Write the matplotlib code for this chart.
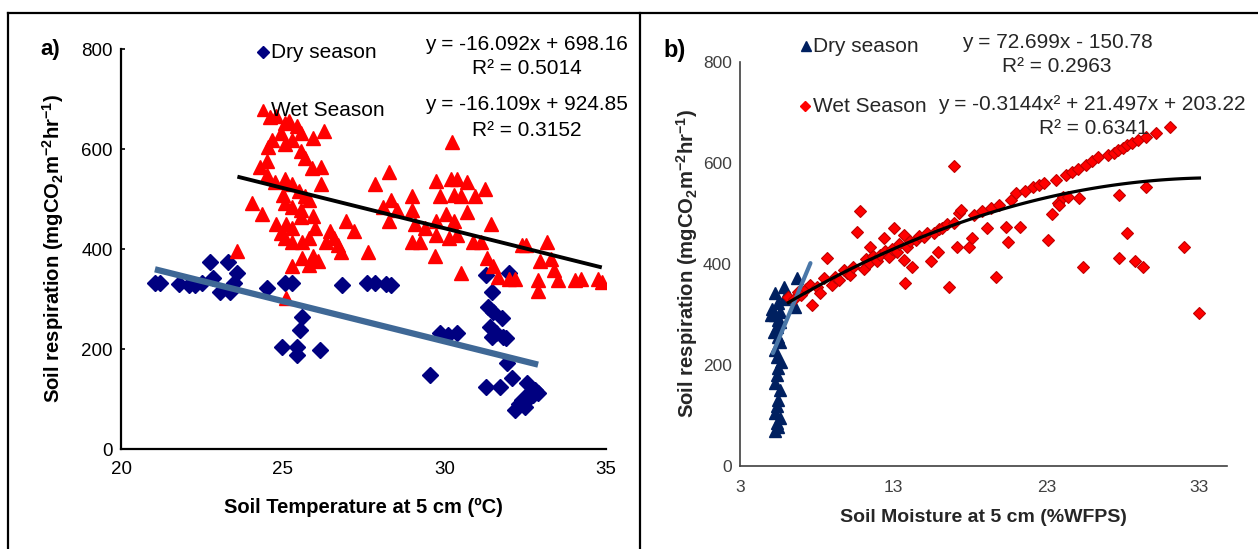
import numpy as np
import matplotlib
matplotlib.use("Agg")
import matplotlib.pyplot as plt
from matplotlib.lines import Line2D

plt.rcParams['font.family'] = ['Liberation Sans', 'DejaVu Sans']
plt.rcParams['mathtext.fontset'] = 'custom'
plt.rcParams['mathtext.rm'] = 'Liberation Sans'
plt.rcParams['mathtext.bf'] = 'Liberation Sans:bold'

# ---- panel a: soil temperature vs respiration ----
dry_a_x = [21.05, 21.2, 21.8, 22.1, 22.3, 22.5, 22.75, 22.85, 23.07, 23.3, 23.37, 23.5, 23.6,
           24.5, 25.07, 25.28, 25.54, 25.6, 24.97, 25.43, 25.43, 26.15, 26.83, 27.6, 27.85,
           28.2, 28.35, 29.56, 29.87, 30.1, 30.38, 31.3, 32.0, 31.47, 31.35, 31.5, 31.78,
           31.4, 31.47, 31.8, 31.9, 31.6, 31.93, 31.3, 31.72, 32.08, 32.55, 32.75, 32.4,
           32.2, 32.9, 32.6, 32.3, 32.5, 32.8, 32.65]
dry_a_y = [332, 332, 330, 328, 329, 332, 375, 342, 315, 375, 315, 332, 352,
           322, 332, 332, 238, 265, 205, 205, 188, 198, 329, 332, 332,
           331, 329, 148, 232, 228, 232, 349, 353, 315, 285, 275, 262,
           245, 224, 224, 222, 232, 172, 125, 125, 142, 132, 108, 98,
           78, 112, 100, 90, 85, 118, 115]

wet_a_x = [23.6, 24.05, 24.37, 24.3, 24.5, 24.56, 24.68, 24.6, 24.8, 25.06, 25.2, 25.44, 25.57,
           25.95, 26.27, 24.94, 25.06, 25.3, 25.57, 25.7, 25.9, 26.2, 26.2, 24.5, 24.75, 25.06,
           25.3, 25.5, 25.7, 25.0, 25.06, 25.3, 25.57, 25.8, 24.8, 24.94, 25.1, 25.3, 25.57,
           25.95, 26.0, 25.06, 25.3, 25.6, 25.8, 25.3, 25.6, 25.95, 25.8, 26.1, 26.45, 26.58,
           26.33, 26.7, 26.8, 26.96, 27.2, 27.65, 27.85, 28.3, 28.1, 28.35, 28.54, 28.3, 29.0,
           29.0, 29.1, 29.4, 29.0, 29.25, 29.7, 29.75, 29.87, 30.2, 30.38, 30.7, 30.25, 30.3,
           30.5, 30.95, 31.27, 29.75, 30.06, 30.3, 30.7, 29.75, 30.13, 30.38, 30.5, 30.9, 31.14,
           31.45, 31.33, 31.5, 31.65, 32.2, 32.0, 32.4, 32.53, 32.97, 32.9, 32.9, 33.16, 33.3,
           33.4, 33.5, 34.05, 34.24, 34.75, 34.87, 25.1]
wet_a_y = [397, 492, 471, 565, 576, 604, 618, 664, 667, 653, 657, 646, 632,
           622, 636, 632, 611, 618, 597, 583, 562, 565, 530, 548, 534, 541,
           530, 516, 506, 509, 492, 485, 478, 499, 450, 432, 450, 443, 464,
           467, 443, 422, 415, 415, 422, 366, 383, 387, 369, 376, 436, 422,
           415, 408, 394, 457, 436, 394, 530, 555, 485, 499, 478, 457, 506,
           478, 450, 443, 415, 415, 387, 537, 506, 541, 541, 534, 615, 509,
           506, 506, 520, 457, 471, 457, 474, 429, 422, 429, 352, 415, 415,
           450, 383, 366, 345, 341, 341, 408, 408, 376, 338, 317, 415, 380,
           359, 338, 338, 341, 341, 334, 303]

fit_dry_a = [-16.092, 698.16]
fit_wet_a = [-16.109, 924.85]

# ---- panel b: soil moisture vs respiration ----
dry_b_x = [5.3, 5.5, 5.4, 5.6, 5.3, 5.4, 5.5, 5.6, 5.3, 5.4, 5.5, 5.7, 5.4, 5.3, 5.6, 5.5,
           5.2, 5.4, 5.6, 5.5, 5.3, 5.6, 5.0, 5.1, 5.5, 5.9, 6.6, 5.3, 5.9, 6.7, 6.2]
dry_b_y = [70, 78, 85, 95, 105, 118, 130, 150, 165, 180, 195, 205, 215, 230, 245, 255,
           265, 275, 285, 290, 300, 305, 300, 310, 323, 330, 315, 342, 355, 372, 335]
dry_b_fit_range = [5.15, 7.6]

wet_b_x = [6.16, 6.5, 6.8, 7.0, 7.3, 7.58, 7.7, 8.0, 8.24, 8.46, 8.68, 9.0, 9.2, 9.44, 9.77,
           10.0, 10.2, 10.4, 10.64, 10.86, 11.07, 11.2, 11.4, 11.5, 11.7, 11.95, 12.17, 12.4,
           12.5, 12.7, 12.9, 13.05, 13.26, 13.4, 13.7, 13.7, 13.8, 13.9, 14.1, 14.25, 14.5,
           14.7, 15.0, 15.2, 15.44, 15.66, 15.9, 16.0, 16.2, 16.5, 16.64, 16.96, 16.97, 17.3,
           17.2, 17.4, 17.96, 18.17, 18.3, 18.8, 19.15, 19.4, 19.7, 19.9, 20.35, 20.47, 20.7,
           21.0, 21.3, 21.6, 22.1, 22.5, 22.87, 23.1, 23.4, 23.63, 23.74, 23.85, 24.07, 24.3,
           24.4, 24.7, 25.05, 25.15, 25.4, 25.6, 26.0, 26.36, 27.0, 27.4, 27.67, 27.78, 27.78,
           28.0, 28.3, 28.3, 28.6, 28.77, 28.97, 29.3, 29.5, 29.5, 30.18, 31.05, 32.0, 33.0]
wet_b_y = [335, 330, 345, 338, 350, 358, 319, 355, 342, 372, 411, 358, 375, 368, 388,
           382, 378, 395, 464, 504, 391, 410, 401, 434, 415, 405, 418, 451,
           425, 414, 430, 471, 424, 440, 457, 408, 362, 434, 445, 395, 448,
           455, 454, 462, 405, 461, 424, 470, 471, 480, 355, 481, 594, 501,
           434, 507, 434, 451, 497, 505, 471, 510, 375, 517, 474, 444, 527,
           540, 474, 545, 553, 556, 560, 448, 500, 566, 520, 517, 533, 576,
           533, 582, 589, 530, 395, 596, 604, 612, 616, 620, 626, 537, 411,
           630, 636, 461, 640, 405, 645, 395, 652, 553, 659, 672, 434, 302]

fit_dry_b = [72.699, -150.78]
fit_wet_b = [-0.3144, 21.497, 203.22]

W, H = 1258, 549
fig = plt.figure(figsize=(W / 100, H / 100), dpi=100)


def fx(px):
    return px / W


def fy(py):
    return 1 - py / H


# frame lines round the two panels
for xs, ys in [([8, W], [13, 13]), ([8, 8], [13, H]), ([640, 640], [13, H])]:
    fig.add_artist(Line2D([fx(v) for v in xs], [fy(v) for v in ys], color='black', lw=1.6,
                          transform=fig.transFigure))

# ---------------- panel a ----------------
ax1 = fig.add_axes([fx(121), fy(449), fx(606) - fx(121), fy(49) - fy(449)])
ax1.plot(dry_a_x, dry_a_y, linestyle='none', marker='D', ms=7.8, color='#000080', zorder=3)
ax1.plot(wet_a_x, wet_a_y, linestyle='none', marker='^', ms=10, color='#ff0000', zorder=3)
xd = np.array([min(dry_a_x), max(dry_a_x)])
ax1.plot(xd, np.polyval(fit_dry_a, xd), color='#3f6896', lw=4.5, solid_capstyle='butt', zorder=4)
xw = np.array([min(wet_a_x), max(wet_a_x)])
ax1.plot(xw, np.polyval(fit_wet_a, xw), color='black', lw=2.8, solid_capstyle='butt', zorder=4)

ax1.set_xlim(20, 35)
ax1.set_ylim(0, 800)
ax1.set_xticks([20, 25, 30, 35])
ax1.set_yticks([0, 200, 400, 600, 800])
ax1.spines['top'].set_visible(False)
ax1.spines['right'].set_visible(False)
for s in ['left', 'bottom']:
    ax1.spines[s].set_linewidth(1.6)
ax1.tick_params(axis='y', direction='in', length=3, width=1.2, pad=6, labelsize=13.5)
ax1.tick_params(axis='x', length=0, pad=9, labelsize=13.5)
ax1.set_xlabel('Soil Temperature at 5 cm (ºC)', fontsize=14.5, fontweight='bold', labelpad=14)
ax1.set_ylabel(r'Soil respiration (mgCO$_\mathbf{2}$m$^\mathbf{-2}$hr$^\mathbf{-1}$)',
               fontsize=14.6, fontweight='bold', labelpad=11)

fig.text(fx(40), fy(49), 'a)', fontsize=16, fontweight='bold', va='center', ha='left')
fig.add_artist(Line2D([fx(263)], [fy(52)], marker='D', ms=6.5, color='#000080',
                      transform=fig.transFigure))
fig.text(fx(271), fy(52), 'Dry season', fontsize=15, va='center', ha='left')
fig.add_artist(Line2D([fx(263)], [fy(110)], marker='^', ms=9, color='#ff0000',
                      transform=fig.transFigure))
fig.text(fx(271), fy(110), 'Wet Season', fontsize=15, va='center', ha='left')
fig.text(fx(628), fy(45), 'y = -16.092x + 698.16', fontsize=15, va='center', ha='right')
fig.text(fx(527), fy(69), 'R² = 0.5014', fontsize=15, va='center', ha='center')
fig.text(fx(628), fy(105), 'y = -16.109x + 924.85', fontsize=15, va='center', ha='right')
fig.text(fx(527), fy(130), 'R² = 0.3152', fontsize=15, va='center', ha='center')

# ---------------- panel b ----------------
grey = '#404040'
ax2 = fig.add_axes([fx(740), fy(466), fx(1227) - fx(740), fy(62) - fy(466)])
ax2.plot(dry_b_x, dry_b_y, linestyle='none', marker='^', ms=8.5, color='#002060', zorder=3)
ax2.plot(wet_b_x, wet_b_y, linestyle='none', marker='D', ms=6, markerfacecolor='#ff0000',
         markeredgecolor='#c00000', markeredgewidth=0.8, zorder=3)
xr = np.array(dry_b_fit_range)
ax2.plot(xr, np.polyval(fit_dry_b, xr), color='#4a77a8', lw=3, solid_capstyle='round', zorder=4)
xc = np.linspace(min(wet_b_x), max(wet_b_x), 100)
ax2.plot(xc, np.polyval(fit_wet_b, xc), color='black', lw=2.3, zorder=4)

ax2.set_xlim(3, 34.8)
ax2.set_ylim(0, 800)
ax2.set_xticks([3, 13, 23, 33])
ax2.set_yticks([0, 200, 400, 600, 800])
ax2.spines['top'].set_visible(False)
ax2.spines['right'].set_visible(False)
for s in ['left', 'bottom']:
    ax2.spines[s].set_linewidth(1.2)
    ax2.spines[s].set_color(grey)
ax2.tick_params(length=0, labelsize=12.5, labelcolor=grey)
ax2.tick_params(axis='y', pad=6)
ax2.tick_params(axis='x', pad=10)
ax2.set_xlabel('Soil Moisture at 5 cm (%WFPS)', fontsize=14, fontweight='bold', color='#262626',
               labelpad=10)
ax2.set_ylabel(r'Soil respiration (mgCO$_\mathbf{2}$m$^\mathbf{-2}$hr$^\mathbf{-1}$)',
               fontsize=14.6, fontweight='bold', color='#262626', labelpad=2)

fig.text(fx(663), fy(51), 'b)', fontsize=17, fontweight='bold', va='center', ha='left')
fig.add_artist(Line2D([fx(806)], [fy(46)], marker='^', ms=7.5, color='#002060',
                      transform=fig.transFigure))
fig.text(fx(813), fy(46), 'Dry season', fontsize=15, va='center', ha='left', color='#262626')
fig.text(fx(1057), fy(42), 'y = 72.699x - 150.78', fontsize=15, va='center', ha='center',
         color='#262626')
fig.text(fx(1057), fy(66), 'R² = 0.2963', fontsize=15, va='center', ha='center', color='#262626')
fig.add_artist(Line2D([fx(805)], [fy(106)], marker='D', ms=5.5, color='#ff0000',
                      transform=fig.transFigure))
fig.text(fx(813), fy(106), 'Wet Season', fontsize=15, va='center', ha='left', color='#262626')
fig.text(fx(1092), fy(105), 'y = -0.3144x² + 21.497x + 203.22', fontsize=15, va='center',
         ha='center', color='#262626')
fig.text(fx(1094), fy(129), 'R² = 0.6341', fontsize=15, va='center', ha='center', color='#262626')

fig.savefig('out.png', dpi=100)
